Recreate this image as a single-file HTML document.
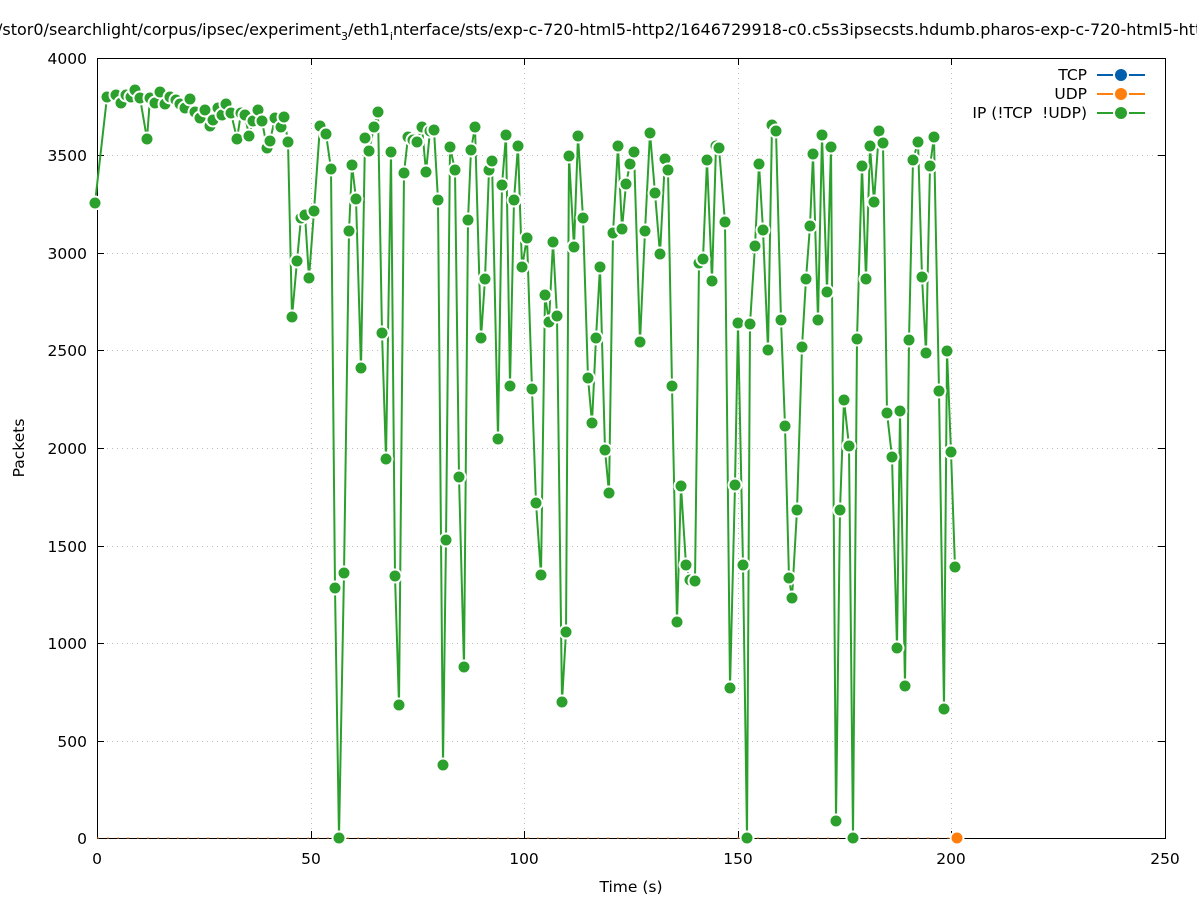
<!DOCTYPE html>
<html><head><meta charset="utf-8"><style>
body{margin:0;background:#fff}
svg{display:block}
text{font-family:"DejaVu Sans","Liberation Sans",sans-serif;font-size:15.5px;fill:#000}
</style></head><body>
<svg width="1197" height="900" viewBox="0 0 1197 900">
<defs>
<marker id="m" markerUnits="userSpaceOnUse" markerWidth="16" markerHeight="16" refX="8" refY="8" overflow="visible">
<circle cx="8" cy="8" r="6.5" fill="#2ca02c" stroke="#fff" stroke-width="2"/>
</marker>
</defs>
<g stroke="#bbb" stroke-width="1" stroke-dasharray="1,4">
<line x1="97" y1="741.5" x2="1165" y2="741.5"/><line x1="97" y1="643.5" x2="1165" y2="643.5"/>
<line x1="97" y1="546.5" x2="1165" y2="546.5"/><line x1="97" y1="448.5" x2="1165" y2="448.5"/>
<line x1="97" y1="350.5" x2="1165" y2="350.5"/><line x1="97" y1="253.5" x2="1165" y2="253.5"/>
<line x1="97" y1="155.5" x2="1165" y2="155.5"/><line x1="97" y1="58.5" x2="1165" y2="58.5"/>
<line x1="311.5" y1="58" x2="311.5" y2="838"/><line x1="524.5" y1="58" x2="524.5" y2="838"/>
<line x1="738.5" y1="58" x2="738.5" y2="838"/><line x1="951.5" y1="58" x2="951.5" y2="838"/>
</g>
<rect x="97.5" y="58.5" width="1068" height="780" fill="none" stroke="#000" stroke-width="1"/>
<g stroke="#000">
<line x1="97" y1="741.5" x2="104" y2="741.5"/><line x1="97" y1="643.5" x2="104" y2="643.5"/><line x1="97" y1="546.5" x2="104" y2="546.5"/><line x1="97" y1="448.5" x2="104" y2="448.5"/><line x1="97" y1="350.5" x2="104" y2="350.5"/><line x1="97" y1="253.5" x2="104" y2="253.5"/><line x1="97" y1="155.5" x2="104" y2="155.5"/>
<line x1="1165" y1="741.5" x2="1158" y2="741.5"/><line x1="1165" y1="643.5" x2="1158" y2="643.5"/><line x1="1165" y1="546.5" x2="1158" y2="546.5"/><line x1="1165" y1="448.5" x2="1158" y2="448.5"/><line x1="1165" y1="350.5" x2="1158" y2="350.5"/><line x1="1165" y1="253.5" x2="1158" y2="253.5"/><line x1="1165" y1="155.5" x2="1158" y2="155.5"/><line x1="1165" y1="58.5" x2="1158" y2="58.5"/>
<line x1="311.5" y1="838" x2="311.5" y2="831"/><line x1="524.5" y1="838" x2="524.5" y2="831"/><line x1="738.5" y1="838" x2="738.5" y2="831"/><line x1="951.5" y1="838" x2="951.5" y2="831"/>
<line x1="311.5" y1="58" x2="311.5" y2="65"/><line x1="524.5" y1="58" x2="524.5" y2="65"/><line x1="738.5" y1="58" x2="738.5" y2="65"/><line x1="951.5" y1="58" x2="951.5" y2="65"/>
</g>
<g text-anchor="end">
<text x="87" y="844">0</text><text x="87" y="747">500</text><text x="87" y="649">1000</text><text x="87" y="552">1500</text><text x="87" y="454">2000</text><text x="87" y="356">2500</text><text x="87" y="259">3000</text><text x="87" y="161">3500</text><text x="87" y="64">4000</text>
</g>
<g text-anchor="middle">
<text x="97" y="864">0</text><text x="311" y="864">50</text><text x="524" y="864">100</text><text x="738" y="864">150</text><text x="951" y="864">200</text><text x="1165" y="864">250</text>
<text x="631" y="892">Time (s)</text>
</g>
<text transform="translate(24,448) rotate(-90)" text-anchor="middle">Packets</text>
<text x="-3" y="35" style="font-size:16px">/stor0/searchlight/corpus/ipsec/experiment<tspan font-size="11" dy="5">3</tspan><tspan dy="-5">/eth1</tspan><tspan font-size="11" dy="5">i</tspan><tspan dy="-5">nterface/sts/exp-c-720-html5-http2/1646729918-c0.c5s3ipsecsts.hdumb.pharos-exp-c-720-html5-http2</tspan></text>
<line x1="97" y1="838" x2="960" y2="838" stroke="#ff7f0e" stroke-width="1" stroke-dasharray="2,8"/>
<circle cx="957" cy="838" r="6.5" fill="#ff7f0e" stroke="#fff" stroke-width="2"/>
<polyline fill="none" stroke="#2ca02c" stroke-width="2" stroke-linejoin="round" marker-start="url(#m)" marker-mid="url(#m)" marker-end="url(#m)" points="95,203 107,97 116,95 121,103 126,95 131,97 135,90 140,98 147,139 150,98 155,103 160,92 165,104 170,97 176,100 180,104 185,108 190,99 195,112 200,118 205,110 210,126 213,120 218,108 222,115 226,104 231,113 237,139 241,113 245,115 249,136 253,121 258,110 262,121 267,148 270,141 275,118 281,127 284,117 288,142 292,317 297,261 301,218 305,215 309,278 314,211 320,126 326,134 331,169 335,588 339,838 344,573 349,231 352,165 356,199 361,368 365,138 369,151 374,127 378,112 382,333 386,459 391,152 395,576 399,705 404,173 408,137 413,140 417,142 422,127 426,172 430,131 434,130 438,200 443,765 446,540 450,147 455,170 459,477 464,667 468,220 471,150 475,127 481,338 485,279 489,170 492,161 498,439 502,185 506,135 510,386 514,200 518,146 522,267 527,238 532,389 536,503 541,575 545,295 549,322 553,242 557,316 562,702 566,632 569,156 574,247 578,136 583,218 588,378 592,423 596,338 600,267 605,450 609,493 613,233 618,146 622,229 626,184 630,164 634,152 640,342 645,231 650,133 655,193 660,254 665,159 668,170 672,386 677,622 681,486 686,565 690,580 695,581 699,263 703,259 707,160 712,281 716,146 719,148 725,222 730,688 735,485 738,323 743,565 747,838 750,324 755,246 759,164 763,230 768,350 772,125 776,131 781,320 785,426 789,578 792,598 797,510 802,347 806,279 810,226 813,154 818,320 822,135 827,292 831,147 836,821 840,510 844,400 849,446 853,838 857,339 862,166 866,279 870,146 874,202 879,131 883,143 887,413 892,457 897,648 900,411 905,686 909,340 913,160 918,142 922,277 926,353 930,166 934,137 939,391 944,709 947,351 951,452 955,567"/>
<g text-anchor="end">
<text x="1087" y="80">TCP</text><text x="1087" y="99">UDP</text><text x="1087" y="118" xml:space="preserve">IP (!TCP  !UDP)</text>
</g>
<g stroke-width="2">
<line x1="1097" y1="75" x2="1145" y2="75" stroke="#0060ad" stroke-dasharray="16,16"/>
<circle cx="1121" cy="75" r="6" fill="#0060ad"/>
<line x1="1097" y1="94" x2="1145" y2="94" stroke="#ff7f0e" stroke-dasharray="16,16"/>
<circle cx="1121" cy="94" r="6" fill="#ff7f0e"/>
<line x1="1097" y1="113" x2="1145" y2="113" stroke="#2ca02c" stroke-dasharray="16,16"/>
<circle cx="1121" cy="113" r="6" fill="#2ca02c"/>
</g>
</svg>
</body></html>
